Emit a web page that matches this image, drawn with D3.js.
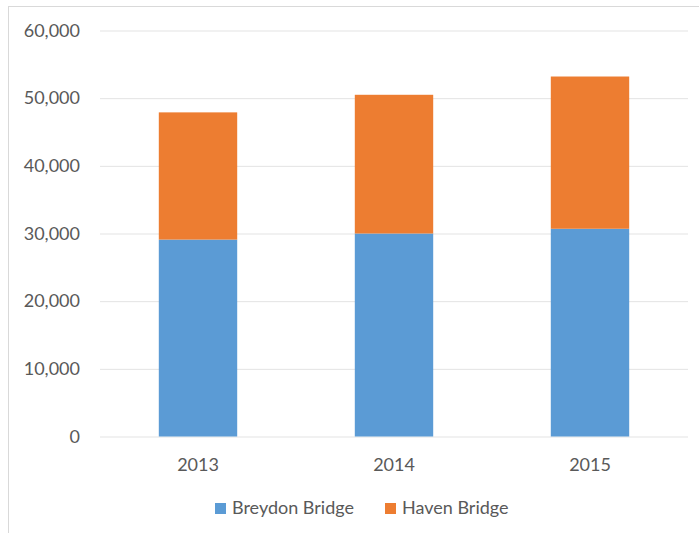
<!DOCTYPE html>
<html>
<head>
<meta charset="utf-8">
<script src="https://cdn.jsdelivr.net/npm/d3@7"></script>
<style>
  body { margin: 0; background: #fff; }
  svg { display: block; font-family: Lato, "Noto Sans", sans-serif; }
</style>
</head>
<body>
<div id="chart"></div>
<script>
// data
const years = ["2013", "2014", "2015"];
const breydon = [29100, 30000, 30700];
const haven = [18800, 20500, 22500];
const seriesNames = ["Breydon Bridge", "Haven Bridge"];
const seriesColors = ["#5b9bd5", "#ed7d31"];
const yTicks = [0, 10000, 20000, 30000, 40000, 50000, 60000];

const width = 699, height = 533;
const plot = { left: 100, right: 688, top: 30.5, bottom: 436.5 };

const svg = d3.select("#chart").append("svg")
    .attr("width", width)
    .attr("height", height);

// chart area border (only top and left edges are in frame)
svg.append("rect")
    .attr("x", 8.5).attr("y", 6.5)
    .attr("width", 720).attr("height", 560)
    .attr("fill", "#fff")
    .attr("stroke", "#d9d9d9");

const x = d3.scaleBand()
    .domain(years)
    .range([plot.left, plot.right])
    .paddingInner(0.6)
    .paddingOuter(0.3);

const y = d3.scaleLinear()
    .domain([0, 60000])
    .range([plot.bottom, plot.top]);

// gridlines + y labels
const yAxis = d3.axisLeft(y)
    .tickValues(yTicks)
    .tickSize(-(plot.right - plot.left))
    .tickPadding(20)
    .tickFormat(d3.format(","));

const gy = svg.append("g")
    .attr("transform", `translate(${plot.left},0)`)
    .call(yAxis);
gy.select(".domain").remove();
gy.selectAll(".tick line").attr("stroke", "#e3e3e3");
gy.selectAll(".tick text")
    .attr("fill", "#595959")
    .attr("font-size", 18)
    .attr("font-family", "Lato, 'Noto Sans', sans-serif");

// stacked bars
const rows = years.map((yr, i) => ({ year: yr, breydon: breydon[i], haven: haven[i] }));
const stack = d3.stack().keys(["breydon", "haven"]);
const layers = stack(rows);

svg.append("g").selectAll("g")
    .data(layers)
    .join("g")
    .attr("fill", (d, i) => seriesColors[i])
    .selectAll("rect")
    .data(d => d)
    .join("rect")
    .attr("x", d => x(d.data.year))
    .attr("width", x.bandwidth())
    .attr("y", d => y(d[1]))
    .attr("height", d => y(d[0]) - y(d[1]));

// x labels
const xAxis = d3.axisBottom(x).tickSize(0).tickPadding(22);
const gx = svg.append("g")
    .attr("transform", `translate(0,${plot.bottom})`)
    .call(xAxis);
gx.select(".domain").remove();
gx.selectAll(".tick text")
    .attr("fill", "#595959")
    .attr("font-size", 18)
    .attr("font-family", "Lato, 'Noto Sans', sans-serif");

// legend
const legendX = [215, 385];
const legend = svg.append("g").selectAll("g")
    .data(seriesNames)
    .join("g")
    .attr("transform", (d, i) => `translate(${legendX[i]},503)`);
legend.append("rect")
    .attr("width", 11).attr("height", 11)
    .attr("fill", (d, i) => seriesColors[i]);
legend.append("text")
    .attr("x", 17).attr("y", 11)
    .attr("fill", "#595959")
    .attr("font-size", 18)
    .text(d => d);
</script>
</body>
</html>
